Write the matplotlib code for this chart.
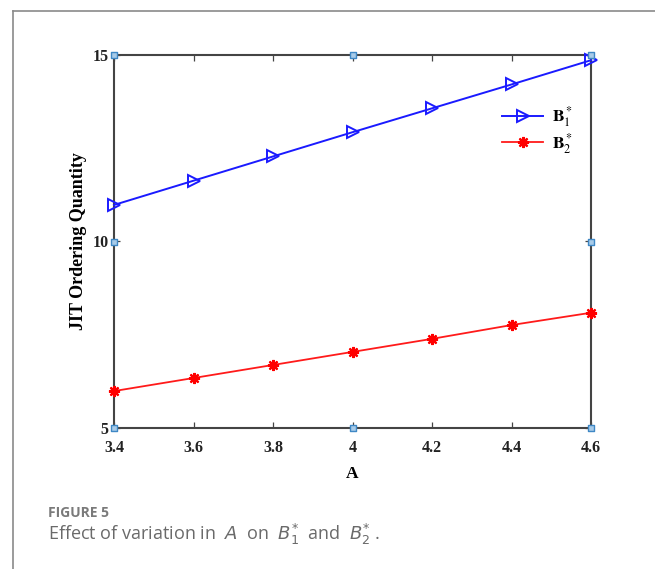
import matplotlib
matplotlib.use("Agg")
import matplotlib.pyplot as plt
from matplotlib.lines import Line2D

A_values = [3.4, 3.6, 3.8, 4.0, 4.2, 4.4, 4.6]
B1_star = [10.98, 11.63, 12.28, 12.93, 13.57, 14.21, 14.86]
B2_star = [5.99, 6.34, 6.69, 7.04, 7.39, 7.76, 8.09]
x_ticks = [3.4, 3.6, 3.8, 4.0, 4.2, 4.4, 4.6]
x_tick_labels = ["3.4", "3.6", "3.8", "4", "4.2", "4.4", "4.6"]
y_ticks = [5, 10, 15]
y_tick_labels = ["5", "10", "15"]

plt.rcParams['mathtext.fontset'] = 'stix'

fig = plt.figure(figsize=(6.55, 5.69), dpi=100)

# page border lines
fig.add_artist(Line2D([13/655, 13/655], [0, 1 - 11/569], color='#8a8a8a', lw=1.2))
fig.add_artist(Line2D([13/655, 1], [1 - 11/569, 1 - 11/569], color='#8a8a8a', lw=1.2))

ax = fig.add_axes([114/655, 1 - 428/569, (591 - 114)/655, (428 - 55)/569])
ax.plot(A_values, B1_star, color='#1a1aff', lw=1.4, marker='>', markersize=9,
        markerfacecolor='none', markeredgecolor='#1a1aff', markeredgewidth=1.4,
        label=r'$\mathbf{B}_1^*$', clip_on=False, zorder=3)
ax.plot(A_values, B2_star, color='#ff1a1a', lw=1.3, marker=(8, 2, 0), markersize=8,
        markeredgecolor='#ff0000', markeredgewidth=1.6,
        label=r'$\mathbf{B}_2^*$', clip_on=False, zorder=3)

ax.set_xlim(3.4, 4.6)
ax.set_ylim(5, 15)
ax.set_xticks(x_ticks)
ax.set_xticklabels(x_tick_labels)
ax.set_yticks(y_ticks)
ax.set_yticklabels(y_tick_labels)
ax.tick_params(direction='in', top=True, right=True, length=4, width=0.9,
               color='#444444', labelsize=11.5)
ax.tick_params(axis='x', pad=9)
ax.tick_params(axis='y', pad=4)
for lab in ax.get_xticklabels() + ax.get_yticklabels():
    lab.set_fontfamily('Liberation Serif')
    lab.set_fontweight('bold')
    lab.set_color('#222222')
for s in ax.spines.values():
    s.set_color('#444444')
    s.set_linewidth(1.5)

ax.set_xlabel('A', fontfamily='Liberation Serif', fontweight='bold', fontsize=12.5, labelpad=7)
ax.set_ylabel('JIT Ordering Quantity', fontfamily='Liberation Serif', fontweight='bold',
              fontsize=13, labelpad=4)

# selection handles
hx = [0, 0.5, 1, 0, 1, 0, 0.5, 1]
hy = [1, 1, 1, 0.5, 0.5, 0, 0, 0]
ax.scatter(hx, hy, transform=ax.transAxes, marker='s', s=24, facecolor='#a8cbe8',
           edgecolor='#3f88c5', linewidth=1.0, clip_on=False, zorder=5)

leg = ax.legend(loc='upper right', bbox_to_anchor=(0.995, 0.91), frameon=False,
                fontsize=12.5, handlelength=2.4, labelspacing=0.1, handletextpad=0.5)

fig.text(48/655, 1 - 513/569, 'FIGURE 5', fontfamily='Open Sans', fontweight='bold',
         fontsize=10, color='#7a7a7a', va='center')
fig.text(48/655, 1 - 534/569,
         r'Effect of variation in  $A$  on  $B_1^{*}$  and  $B_2^{*}$ .',
         fontfamily='Open Sans', fontsize=13, color='#6a6a6a', va='center',
         math_fontfamily='dejavusans')

fig.savefig('out.png', dpi=100)
